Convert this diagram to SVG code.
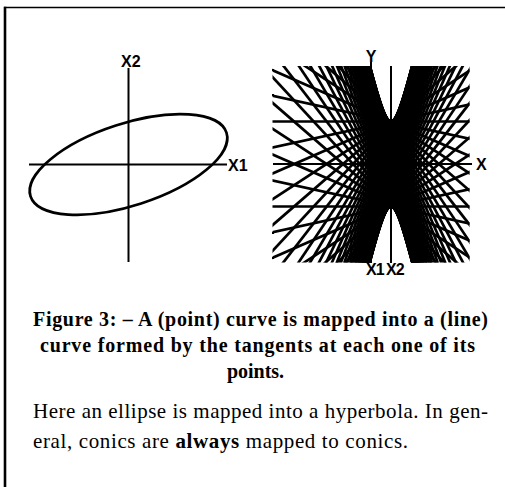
<svg xmlns="http://www.w3.org/2000/svg" width="505" height="487" viewBox="0 0 505 487">
<style>
.ax{stroke:#000;stroke-width:2;fill:none}
.lbl{font-family:"Liberation Sans",Arial,sans-serif;font-weight:bold;font-size:16px;fill:#000}
.cap{font-family:"Liberation Serif","Times New Roman",serif;font-weight:bold;font-size:20px;fill:#000}
.par{font-family:"Liberation Serif","Times New Roman",serif;font-size:21px;fill:#000}
.tl line{stroke:#000;stroke-width:2.7}
</style>
<defs>
<clipPath id="win"><rect x="272.5" y="66" width="197" height="196.5"/></clipPath>
</defs>
<rect width="505" height="487" fill="#fff"/>
<g id="frame">
<line x1="4" y1="7.5" x2="505" y2="7.5" stroke="#000" stroke-width="1.6"/>
<line x1="5" y1="6.7" x2="5" y2="487" stroke="#000" stroke-width="2.6"/>
</g>
<g id="left-plot">
<line class="ax" x1="128.5" y1="68" x2="128.5" y2="262"/>
<line class="ax" x1="29" y1="164.5" x2="227" y2="164.5"/>
<ellipse cx="128.5" cy="164.5" rx="103" ry="41" transform="rotate(-18 128.5 164.5)" fill="none" stroke="#000" stroke-width="2.7"/>
<text class="lbl" x="121" y="67">X2</text>
<text class="lbl" x="228" y="170.5">X1</text>
</g>
<g id="right-plot">
<g class="tl" clip-path="url(#win)">
<line x1="271" y1="-301.1" x2="471" y2="441.9"/>
<line x1="271" y1="-290.6" x2="471" y2="431.6"/>
<line x1="271" y1="-278.8" x2="471" y2="420.6"/>
<line x1="271" y1="-265.8" x2="471" y2="408.9"/>
<line x1="271" y1="-251.6" x2="471" y2="396.5"/>
<line x1="271" y1="-236.3" x2="471" y2="383.5"/>
<line x1="271" y1="-219.9" x2="471" y2="369.8"/>
<line x1="271" y1="-202.4" x2="471" y2="355.6"/>
<line x1="271" y1="-183.9" x2="471" y2="340.9"/>
<line x1="271" y1="-164.5" x2="471" y2="325.7"/>
<line x1="271" y1="-144.1" x2="471" y2="310.0"/>
<line x1="271" y1="-123.0" x2="471" y2="294.0"/>
<line x1="271" y1="-101.0" x2="471" y2="277.6"/>
<line x1="271" y1="-78.3" x2="471" y2="260.8"/>
<line x1="271" y1="-55.0" x2="471" y2="243.8"/>
<line x1="271" y1="-31.0" x2="471" y2="226.6"/>
<line x1="271" y1="-6.5" x2="471" y2="209.3"/>
<line x1="271" y1="18.4" x2="471" y2="191.8"/>
<line x1="271" y1="43.8" x2="471" y2="174.2"/>
<line x1="271" y1="69.5" x2="471" y2="156.6"/>
<line x1="271" y1="95.4" x2="471" y2="139.0"/>
<line x1="271" y1="121.5" x2="471" y2="121.5"/>
<line x1="271" y1="147.8" x2="471" y2="104.1"/>
<line x1="271" y1="174.1" x2="471" y2="86.8"/>
<line x1="271" y1="200.3" x2="471" y2="69.8"/>
<line x1="271" y1="226.5" x2="471" y2="53.0"/>
<line x1="271" y1="252.5" x2="471" y2="36.6"/>
<line x1="271" y1="278.3" x2="471" y2="20.5"/>
<line x1="271" y1="303.7" x2="471" y2="4.8"/>
<line x1="271" y1="328.7" x2="471" y2="-10.5"/>
<line x1="271" y1="353.3" x2="471" y2="-25.3"/>
<line x1="271" y1="377.4" x2="471" y2="-39.6"/>
<line x1="271" y1="400.9" x2="471" y2="-53.4"/>
<line x1="271" y1="423.8" x2="471" y2="-66.5"/>
<line x1="271" y1="445.9" x2="471" y2="-79.0"/>
<line x1="271" y1="467.3" x2="471" y2="-90.8"/>
<line x1="271" y1="487.8" x2="471" y2="-102.0"/>
<line x1="271" y1="507.5" x2="471" y2="-112.4"/>
<line x1="271" y1="526.2" x2="471" y2="-122.0"/>
<line x1="271" y1="543.9" x2="471" y2="-130.9"/>
<line x1="271" y1="560.5" x2="471" y2="-138.9"/>
<line x1="271" y1="576.1" x2="471" y2="-146.2"/>
<line x1="271" y1="590.6" x2="471" y2="-152.5"/>
<line x1="271" y1="603.9" x2="471" y2="-158.1"/>
<line x1="271" y1="615.9" x2="471" y2="-162.7"/>
<line x1="271" y1="626.8" x2="471" y2="-166.4"/>
<line x1="271" y1="636.4" x2="471" y2="-169.2"/>
<line x1="271" y1="644.6" x2="471" y2="-171.1"/>
<line x1="271" y1="651.6" x2="471" y2="-172.1"/>
<line x1="271" y1="657.2" x2="471" y2="-172.2"/>
<line x1="271" y1="661.5" x2="471" y2="-171.4"/>
<line x1="271" y1="664.4" x2="471" y2="-169.6"/>
<line x1="271" y1="665.9" x2="471" y2="-166.9"/>
<line x1="271" y1="666.1" x2="471" y2="-163.3"/>
<line x1="271" y1="664.9" x2="471" y2="-158.8"/>
<line x1="271" y1="662.3" x2="471" y2="-153.5"/>
<line x1="271" y1="658.3" x2="471" y2="-147.2"/>
<line x1="271" y1="653.0" x2="471" y2="-140.1"/>
<line x1="271" y1="646.4" x2="471" y2="-132.2"/>
<line x1="271" y1="638.4" x2="471" y2="-123.5"/>
<line x1="271" y1="629.1" x2="471" y2="-113.9"/>
<line x1="271" y1="618.6" x2="471" y2="-103.6"/>
<line x1="271" y1="606.8" x2="471" y2="-92.6"/>
<line x1="271" y1="593.8" x2="471" y2="-80.9"/>
<line x1="271" y1="579.6" x2="471" y2="-68.5"/>
<line x1="271" y1="564.3" x2="471" y2="-55.5"/>
<line x1="271" y1="547.9" x2="471" y2="-41.8"/>
<line x1="271" y1="530.4" x2="471" y2="-27.6"/>
<line x1="271" y1="511.9" x2="471" y2="-12.9"/>
<line x1="271" y1="492.5" x2="471" y2="2.3"/>
<line x1="271" y1="472.1" x2="471" y2="18.0"/>
<line x1="271" y1="451.0" x2="471" y2="34.0"/>
<line x1="271" y1="429.0" x2="471" y2="50.4"/>
<line x1="271" y1="406.3" x2="471" y2="67.2"/>
<line x1="271" y1="383.0" x2="471" y2="84.2"/>
<line x1="271" y1="359.0" x2="471" y2="101.4"/>
<line x1="271" y1="334.5" x2="471" y2="118.7"/>
<line x1="271" y1="309.6" x2="471" y2="136.2"/>
<line x1="271" y1="284.2" x2="471" y2="153.8"/>
<line x1="271" y1="258.5" x2="471" y2="171.4"/>
<line x1="271" y1="232.6" x2="471" y2="189.0"/>
<line x1="271" y1="206.5" x2="471" y2="206.5"/>
<line x1="271" y1="180.2" x2="471" y2="223.9"/>
<line x1="271" y1="153.9" x2="471" y2="241.2"/>
<line x1="271" y1="127.7" x2="471" y2="258.2"/>
<line x1="271" y1="101.5" x2="471" y2="275.0"/>
<line x1="271" y1="75.5" x2="471" y2="291.4"/>
<line x1="271" y1="49.8" x2="471" y2="307.5"/>
<line x1="271" y1="24.3" x2="471" y2="323.3"/>
<line x1="271" y1="-0.7" x2="471" y2="338.5"/>
<line x1="271" y1="-25.3" x2="471" y2="353.3"/>
<line x1="271" y1="-49.4" x2="471" y2="367.6"/>
<line x1="271" y1="-72.9" x2="471" y2="381.4"/>
<line x1="271" y1="-95.8" x2="471" y2="394.5"/>
<line x1="271" y1="-117.9" x2="471" y2="407.0"/>
<line x1="271" y1="-139.3" x2="471" y2="418.8"/>
<line x1="271" y1="-159.8" x2="471" y2="430.0"/>
<line x1="271" y1="-179.5" x2="471" y2="440.4"/>
<line x1="271" y1="-198.2" x2="471" y2="450.0"/>
<line x1="271" y1="-215.9" x2="471" y2="458.9"/>
<line x1="271" y1="-232.5" x2="471" y2="466.9"/>
<line x1="271" y1="-248.1" x2="471" y2="474.2"/>
<line x1="271" y1="-262.6" x2="471" y2="480.5"/>
<line x1="271" y1="-275.9" x2="471" y2="486.1"/>
<line x1="271" y1="-287.9" x2="471" y2="490.7"/>
<line x1="271" y1="-298.8" x2="471" y2="494.4"/>
<line x1="271" y1="-308.4" x2="471" y2="497.2"/>
<line x1="271" y1="-316.6" x2="471" y2="499.1"/>
<line x1="271" y1="-323.6" x2="471" y2="500.1"/>
<line x1="271" y1="-329.2" x2="471" y2="500.2"/>
<line x1="271" y1="-333.5" x2="471" y2="499.4"/>
<line x1="271" y1="-336.4" x2="471" y2="497.6"/>
<line x1="271" y1="-337.9" x2="471" y2="494.9"/>
<line x1="271" y1="-338.1" x2="471" y2="491.3"/>
<line x1="271" y1="-336.9" x2="471" y2="486.8"/>
<line x1="271" y1="-334.3" x2="471" y2="481.5"/>
<line x1="271" y1="-330.3" x2="471" y2="475.2"/>
<line x1="271" y1="-325.0" x2="471" y2="468.1"/>
<line x1="271" y1="-318.4" x2="471" y2="460.2"/>
<line x1="271" y1="-310.4" x2="471" y2="451.5"/>
</g>
<line class="ax" x1="273" y1="164" x2="472" y2="164"/>
<line class="ax" x1="371" y1="62" x2="371" y2="263"/>
<line class="ax" x1="391" y1="66" x2="391" y2="263"/>
<rect x="272" y="69" width="2" height="2"/>
<rect x="272" y="94" width="2" height="2"/>
<rect x="272" y="232" width="2" height="2"/>
<rect x="272" y="257" width="2" height="2"/>
<text class="lbl" x="371" y="62" text-anchor="middle" font-size="15">Y</text>
<text class="lbl" x="476" y="170" font-size="15">X</text>
<text class="lbl" x="366" y="275" font-size="13" letter-spacing="-1">X1</text>
<text class="lbl" x="386" y="275" font-size="13" letter-spacing="-1">X2</text>
</g>
<g id="caption">
<text class="cap" x="33" y="326" textLength="455" lengthAdjust="spacing">Figure 3: – A (point) curve is mapped into a (line)</text>
<text class="cap" x="40" y="352" textLength="435" lengthAdjust="spacing">curve formed by the tangents at each one of its</text>
<text class="cap" x="255.5" y="378" text-anchor="middle">points.</text>
</g>
<g id="paragraph">
<text class="par" x="33" y="418" textLength="455" lengthAdjust="spacing">Here an ellipse is mapped into a hyperbola. In gen-</text>
<text class="par" x="33" y="448" textLength="375" lengthAdjust="spacing">eral, conics are <tspan font-weight="bold">always</tspan> mapped to conics.</text>
</g>
</svg>
